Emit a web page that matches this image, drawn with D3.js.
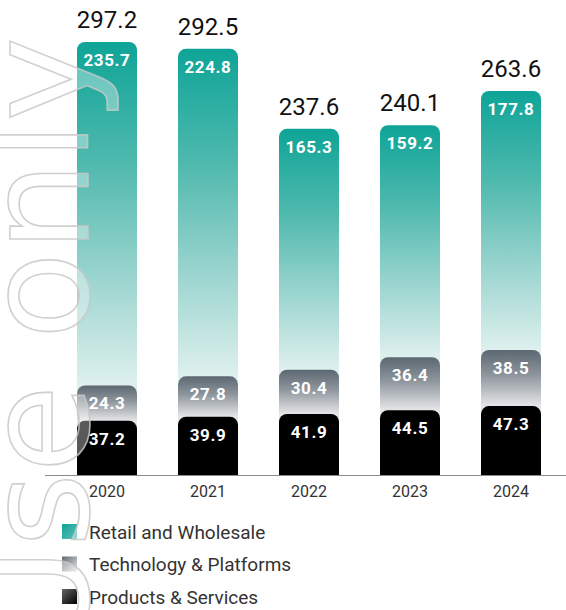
<!DOCTYPE html>
<html>
<head>
<meta charset="utf-8">
<script src="https://cdn.jsdelivr.net/npm/d3@7/dist/d3.min.js"></script>
<style>
  html, body { margin: 0; padding: 0; background: #fff; }
  svg { display: block; }
</style>
</head>
<body>
<svg id="chart" width="566" height="610"></svg>
<script>
// Revenue by segment, stacked per year
const years = ["2020", "2021", "2022", "2023", "2024"];
const retailWholesale = [235.7, 224.8, 165.3, 159.2, 177.8];
const techPlatforms = [24.3, 27.8, 30.4, 36.4, 38.5];
const productsServices = [37.2, 39.9, 41.9, 44.5, 47.3];
const totals = [297.2, 292.5, 237.6, 240.1, 263.6];
const seriesNames = ["Products & Services", "Technology & Platforms", "Retail and Wholesale"];
const legendLabels = ["Retail and Wholesale", "Technology & Platforms", "Products & Services"];

const W = 566, H = 610;
const baseY = 475;
const svg = d3.select("#chart");
const defs = svg.append("defs");

const rows = years.map((y, i) => ({
  year: y,
  "Products & Services": productsServices[i],
  "Technology & Platforms": techPlatforms[i],
  "Retail and Wholesale": retailWholesale[i],
  total: totals[i]
}));
const stacked = d3.stack().keys(seriesNames)(rows);

const x = d3.scaleBand().domain(years).range([56.5, 561.5])
  .paddingInner(0.406).paddingOuter(0.203);
const y = d3.scaleLinear().domain([0, 300]).range([baseY, baseY - 300 * 1.457]);

const bw = x.bandwidth();
const r = 8;

// Bar segment rising from the baseline, rounded at its top corners only
function segPath(x0, w, yTop, yBase) {
  return `M${x0},${yBase}V${yTop + r}A${r},${r} 0 0 1 ${x0 + r},${yTop}` +
    `H${x0 + w - r}A${r},${r} 0 0 1 ${x0 + w},${yTop + r}V${yBase}Z`;
}

// Per-bar vertical gradients spanning the visible part of each segment
function vGrad(id, y1, y2, stops) {
  const g = defs.append("linearGradient").attr("id", id)
    .attr("gradientUnits", "userSpaceOnUse")
    .attr("x1", 0).attr("x2", 0).attr("y1", y1).attr("y2", y2);
  stops.forEach(s => g.append("stop").attr("offset", s[0]).attr("stop-color", s[1]));
}

const bars = svg.append("g");
// Draw the tallest stack first so lower segments sit on top
const order = [2, 1, 0];
order.forEach(si => {
  const layer = stacked[si];
  layer.forEach((d, i) => {
    const yTop = y(d[1]);
    const x0 = x(years[i]);
    let fill;
    if (si === 2) {
      const nextTop = y(stacked[1][i][1]);
      vGrad(`gr-t-${i}`, yTop, nextTop, [[0, "#0ea497"], [0.35, "#4fb9ae"], [0.75, "#a9dad5"], [1, "#def0ee"]]);
      fill = `url(#gr-t-${i})`;
    } else if (si === 1) {
      const nextTop = y(stacked[0][i][1]);
      vGrad(`gr-g-${i}`, yTop, nextTop, [[0, "#5c6771"], [0.45, "#8e969d"], [1, "#e6e6e8"]]);
      fill = `url(#gr-g-${i})`;
    } else {
      fill = "#000";
    }
    bars.append("path")
      .attr("d", segPath(x0, bw, yTop, baseY))
      .attr("fill", fill);
  });
});

// Segment values
const segValues = [productsServices, techPlatforms, retailWholesale];
const valG = svg.append("g")
  .attr("font-family", "Roboto, 'DejaVu Sans Condensed', sans-serif")
  .attr("font-weight", 700)
  .attr("font-size", 17)
  .attr("fill", "#fff")
  .attr("text-anchor", "middle");
[0, 1, 2].forEach(si => {
  stacked[si].forEach((d, i) => {
    valG.append("text")
      .attr("x", x(years[i]) + bw / 2)
      .attr("y", y(d[1]) + 18)
      .attr("dy", "0.35em")
      .attr("letter-spacing", 0.6)
      .text(segValues[si][i].toFixed(1));
  });
});

// Totals above bars
svg.append("g")
  .attr("font-family", "Roboto, sans-serif")
  .attr("font-size", 24)
  .attr("fill", "#111")
  .attr("text-anchor", "middle")
  .selectAll("text").data(totals).join("text")
  .attr("x", (d, i) => x(years[i]) + bw / 2)
  .attr("y", d => y(d) - 14)
  .text(d => d.toFixed(1));

// Baseline axis with year labels
const axis = svg.append("g").attr("transform", `translate(0,${baseY})`)
  .call(d3.axisBottom(x).tickSize(0).tickPadding(11));
axis.select(".domain").attr("d", `M45,0.5H566`).attr("stroke", "#8a8a8a");
axis.selectAll("text")
  .attr("font-family", "Roboto, sans-serif")
  .attr("font-size", 16)
  .attr("fill", "#333");

// Legend
const legendSw = [
  [[0, "#0fa296"], [1, "#5cc2b8"]],
  [[0, "#5f6a73"], [1, "#e4e4e6"]],
  [[0, "#666"], [1, "#000"]]
];
legendSw.forEach((st, i) => {
  const g = defs.append("linearGradient").attr("id", `lg-${i}`)
    .attr("x1", 0).attr("y1", 0).attr("x2", 1).attr("y2", 1);
  st.forEach(s => g.append("stop").attr("offset", s[0]).attr("stop-color", s[1]));
});
const leg = svg.append("g")
  .selectAll("g").data(legendLabels).join("g")
  .attr("transform", (d, i) => `translate(62,${532 + i * 32.5})`);
leg.append("rect").attr("x", 0).attr("y", -8).attr("width", 15).attr("height", 15)
  .attr("fill", (d, i) => `url(#lg-${i})`);
leg.append("text").attr("x", 27).attr("y", 0).attr("dy", "0.35em")
  .attr("font-family", "Roboto, sans-serif")
  .attr("font-size", 19)
  .attr("fill", "#333")
  .text(d => d);

// Outlined watermark along the left edge
svg.append("text")
  .attr("transform", "translate(88,652) rotate(-90)")
  .attr("x", 0).attr("y", 0)
  .attr("font-family", "'DejaVu Sans', sans-serif")
  .attr("font-size", 143)
  .attr("fill", "rgba(255,255,255,0.35)")
  .attr("stroke", "rgba(200,200,200,0.85)")
  .attr("stroke-width", 1.6)
  .text("Use only");
</script>
</body>
</html>
